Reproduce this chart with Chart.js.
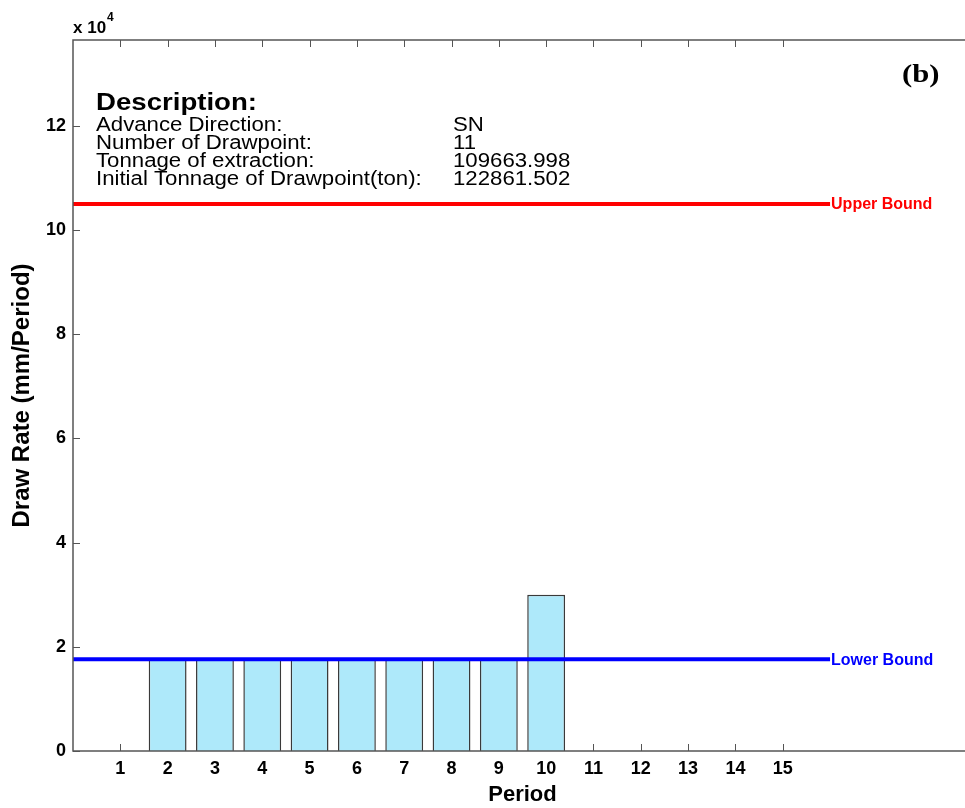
<!DOCTYPE html>
<html>
<head>
<meta charset="utf-8">
<script src="https://cdn.jsdelivr.net/npm/chart.js@4/dist/chart.umd.min.js"></script>
<style>
  html, body { margin: 0; padding: 0; background: #fff; overflow: hidden; }
  #wrap { width: 980px; height: 808px; position: relative; }
</style>
</head>
<body>
<div id="wrap"><canvas id="c" width="980" height="808"></canvas></div>
<script>
// Draw rate per extraction period
const periods  = [1, 2, 3, 4, 5, 6, 7, 8, 9, 10, 11, 12, 13, 14, 15];
const drawRate = [0, 17600, 17600, 17600, 17600, 17600, 17600, 17600, 17600, 30000, 0, 0, 0, 0, 0];

// Draw-rate limits
const upperBound = 105000;
const lowerBound = 17600;
const boundSpan  = [0, 16];

// Y tick values (labelled in units of 10^4)
const yTicks = [0, 20000, 40000, 60000, 80000, 100000, 120000];

// Description block
const descLabels = ['Advance Direction:', 'Number of Drawpoint:', 'Tonnage of extraction:', 'Initial Tonnage of Drawpoint(ton):'];
const descValues = ['SN', '11', '109663.998', '122861.502'];

const FONT = '"Liberation Sans", Arial, Helvetica, sans-serif';
const AXIS_COLOR = '#555555';

function drawStretched(ctx, text, x, y, font, sx, color) {
  ctx.save();
  ctx.font = font;
  ctx.fillStyle = color;
  ctx.textAlign = 'left';
  ctx.textBaseline = 'alphabetic';
  ctx.translate(x, y);
  ctx.scale(sx, 1);
  ctx.fillText(text, 0, 0);
  ctx.restore();
}

const decorations = {
  id: 'decorations',
  // inward tick marks sit underneath the bars
  beforeDatasetsDraw(chart) {
    const { ctx, chartArea: a, scales: { x, y } } = chart;
    const tl = 7;
    ctx.save();
    ctx.strokeStyle = AXIS_COLOR;
    ctx.lineWidth = 1;
    ctx.beginPath();
    periods.forEach(p => {
      const px = Math.round(x.getPixelForValue(p)) + 0.5;
      ctx.moveTo(px, a.bottom); ctx.lineTo(px, a.bottom - tl);
      ctx.moveTo(px, a.top);    ctx.lineTo(px, a.top + tl);
    });
    yTicks.forEach(v => {
      const py = Math.round(y.getPixelForValue(v)) + 0.5;
      ctx.moveTo(a.left, py);  ctx.lineTo(a.left + tl, py);
      ctx.moveTo(a.right, py); ctx.lineTo(a.right - tl, py);
    });
    ctx.stroke();
    ctx.restore();
  },
  afterDraw(chart) {
    const { ctx, chartArea: a, scales: { x, y } } = chart;
    ctx.save();

    // axes box
    ctx.strokeStyle = AXIS_COLOR;
    ctx.lineWidth = 1.5;
    ctx.strokeRect(a.left, a.top, a.right - a.left, a.bottom - a.top);

    // exponent label
    ctx.fillStyle = '#000';
    ctx.textBaseline = 'alphabetic';
    ctx.textAlign = 'left';
    ctx.font = 'bold 17px ' + FONT;
    ctx.fillText('x 10', 73, 33);
    const w = ctx.measureText('x 10').width;
    ctx.font = 'bold 12px ' + FONT;
    ctx.fillText('4', 73 + w + 1, 21);

    // bound labels at the end of each line
    const xEnd = x.getPixelForValue(boundSpan[1]) + 1;
    ctx.textBaseline = 'middle';
    ctx.font = 'bold 16px ' + FONT;
    ctx.fillStyle = '#ff0000';
    ctx.fillText('Upper Bound', xEnd, y.getPixelForValue(upperBound) + 1);
    ctx.fillStyle = '#0000ff';
    ctx.fillText('Lower Bound', xEnd, y.getPixelForValue(lowerBound) + 1);

    // description block
    drawStretched(ctx, 'Description:', 96, 110, 'bold 23px ' + FONT, 1.2, '#000');
    descLabels.forEach((t, i) => {
      const by = 131 + i * 18;
      drawStretched(ctx, t, 96, by, '20px ' + FONT, 1.11, '#000');
      drawStretched(ctx, descValues[i], 453, by, '20px ' + FONT, 1.11, '#000');
    });

    // panel letter
    drawStretched(ctx, '(b)', 902, 82, 'bold 26px "Liberation Serif", "Times New Roman", serif', 1.18, '#000');

    ctx.restore();
  }
};

new Chart(document.getElementById('c'), {
  type: 'bar',
  data: {
    datasets: [
      {
        type: 'bar',
        label: 'Draw Rate',
        data: periods.map((p, i) => ({ x: p, y: drawRate[i] })),
        backgroundColor: '#aee9fa',
        borderColor: '#3a3a3a',
        borderWidth: 1.5,
        borderSkipped: 'start',
        barPercentage: 0.8,
        categoryPercentage: 1,
        order: 2
      },
      {
        type: 'line',
        label: 'Upper Bound',
        data: boundSpan.map(v => ({ x: v, y: upperBound })),
        borderColor: '#ff0000',
        borderWidth: 4,
        pointRadius: 0,
        fill: false,
        order: 1
      },
      {
        type: 'line',
        label: 'Lower Bound',
        data: boundSpan.map(v => ({ x: v, y: lowerBound })),
        borderColor: '#0000ff',
        borderWidth: 4,
        pointRadius: 0,
        fill: false,
        order: 1
      }
    ]
  },
  options: {
    responsive: false,
    animation: false,
    devicePixelRatio: 1,
    layout: { padding: { left: 0, top: 40, right: 8, bottom: 0 } },
    plugins: {
      legend: { display: false },
      tooltip: { enabled: false }
    },
    scales: {
      x: {
        type: 'linear',
        min: 0,
        max: 19,
        offset: false,
        grid: { display: false, offset: false, drawTicks: false },
        border: { display: false },
        afterBuildTicks: s => { s.ticks = periods.map(v => ({ value: v })); },
        afterFit: s => { s.height = 57; },
        ticks: {
          autoSkip: false,
          maxRotation: 0,
          padding: 7,
          color: '#000',
          font: { family: FONT, size: 18, weight: 'bold' }
        },
        title: {
          display: true,
          text: 'Period',
          color: '#000',
          font: { family: FONT, size: 22, weight: 'bold', lineHeight: 1 },
          padding: { top: 0, bottom: 2 }
        }
      },
      y: {
        type: 'linear',
        min: 0,
        max: 136500,
        grid: { display: false, drawTicks: false },
        border: { display: false },
        afterBuildTicks: s => { s.ticks = yTicks.map(v => ({ value: v })); },
        afterFit: s => { s.width = 73; },
        ticks: {
          padding: 7,
          color: '#000',
          font: { family: FONT, size: 18, weight: 'bold' },
          callback: v => String(v / 10000)
        },
        title: {
          display: true,
          text: 'Draw Rate (mm/Period)',
          color: '#000',
          font: { family: FONT, size: 24, weight: 'bold', lineHeight: 1 },
          padding: { top: 10, bottom: 0 }
        }
      }
    }
  },
  plugins: [decorations]
});
</script>
</body>
</html>
